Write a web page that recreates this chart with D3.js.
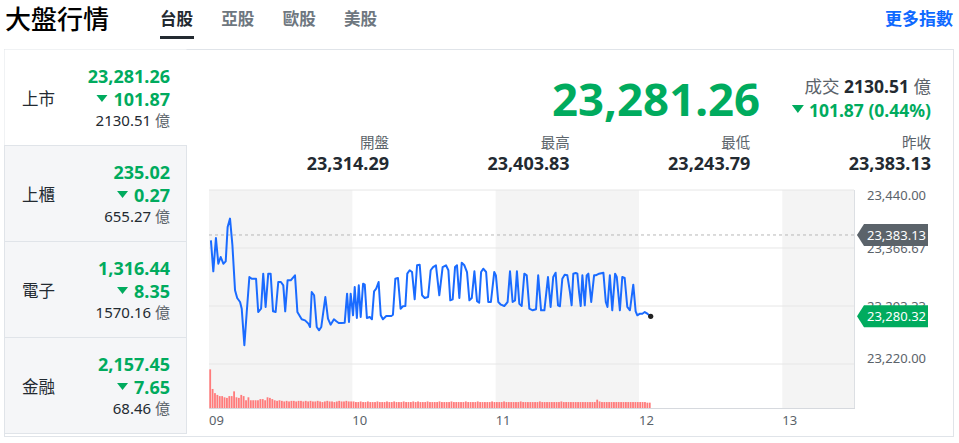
<!DOCTYPE html>
<html><head><meta charset="utf-8">
<script src="https://cdn.jsdelivr.net/npm/d3@7"></script>
<style>
html,body{margin:0;padding:0;background:#fff;}
svg{display:block;font-family:"Noto Sans","Noto Sans CJK TC",sans-serif;}
</style></head>
<body><svg id="c" width="959" height="443"></svg>
<script>
// ---------- data ----------
const pageTitle = "大盤行情";
const tabs = ["台股","亞股","歐股","美股"];
const moreLink = "更多指數";
const indexNames = ["上市","上櫃","電子","金融"];
const indexValues = ["23,281.26","235.02","1,316.44","2,157.45"];
const indexChanges = ["101.87","0.27","8.35","7.65"];
const indexTurnover = ["2130.51","655.27","1570.16","68.46"];
const lastIndex = "23,281.26";
const turnoverText = "2130.51";
const changeText = "101.87 (0.44%)";
const statLabels = ["開盤","最高","最低","昨收"];
const statValues = ["23,314.29","23,403.83","23,243.79","23,383.13"];
const prevClose = 23383.13;
const lastTrade = 23280.32;
const yTicks = [23440, 23366.67, 23293.33, 23220];
const hourLabels = ["09","10","11","12","13"];
// minutes after 09:00 for each traced point of the intraday line
const minutes = [0.8,1.8,2.9,3.9,4.9,6.0,7.0,7.8,8.8,9.8,
10.9,11.8,13.0,13.7,14.8,15.8,16.9,17.9,19.7,20.6,
21.8,22.7,23.7,24.8,25.8,26.8,27.9,29.0,30.1,31.1,
31.9,32.9,34.2,36.0,37.0,38.8,40.2,41.6,42.3,43.0,
44.0,45.1,46.1,47.0,48.7,49.8,50.9,52.3,53.3,54.3,
55.4,56.8,57.8,58.6,59.3,60.3,61.0,61.9,62.7,63.5,
64.5,65.2,66.1,67.3,68.2,69.1,70.0,71.0,71.9,72.8,
74.2,76.3,77.0,78.0,79.1,80.2,81.2,82.2,83.0,84.0,
85.0,86.1,87.1,88.2,89.2,90.3,91.7,92.8,93.8,95.0,
96.4,97.8,99.2,100.2,101.0,102.0,103.0,103.8,104.8,105.8,
106.9,108.0,109.0,110.0,111.1,112.2,113.1,113.9,114.8,116.0,
116.9,118.0,119.4,120.1,121.1,122.2,123.6,125.0,126.0,127.1,
128.1,128.9,129.9,130.9,132.0,133.0,134.1,135.5,136.9,137.8,
139.0,140.4,141.9,143.0,144.1,145.1,146.1,146.9,147.9,148.9,
150.0,151.1,151.8,152.5,153.5,154.2,154.9,155.6,156.3,157.3,
158.1,158.8,160.0,161.2,161.9,163.3,165.1,166.1,166.8,167.8,
168.8,170.0,170.7,172.0,173.0,174.0,175.1,176.2,177.6,178.6,
179.3,180.4,181.4,182.4,183.5,184.9];
const prices = [23376.4,23337.2,23379.3,23346.8,23355.3,23346.8,23349.8,23393.2,23403.83,23370.1,
23313.2,23303.4,23298.4,23289.9,23243.79,23285.7,23330.0,23327.8,23327.8,23285.7,
23289.9,23334.2,23292.1,23334.2,23334.2,23286.6,23285.7,23323.7,23323.7,23319.5,
23286.6,23325.8,23325.8,23332.1,23285.7,23276.5,23275.2,23271.0,23266.8,23311.0,
23306.9,23266.8,23262.6,23266.8,23304.7,23277.3,23269.7,23276.5,23274.0,23271.8,
23271.8,23272.2,23308.9,23273.1,23308.9,23281.6,23317.4,23278.2,23319.5,23279.4,
23321.5,23320.3,23278.2,23279.4,23276.5,23311.9,23315.2,23323.7,23281.6,23276.5,
23280.7,23280.7,23282.3,23327.8,23328.7,23289.9,23293.0,23293.3,23334.2,23338.5,
23336.3,23301.8,23344.8,23345.5,23306.9,23303.4,23304.7,23338.5,23342.6,23344.8,
23306.9,23342.6,23344.8,23338.5,23300.5,23301.8,23342.6,23344.8,23303.4,23348.1,
23344.8,23336.3,23300.5,23303.4,23337.2,23299.3,23297.5,23336.3,23340.5,23336.3,
23298.4,23298.4,23336.3,23332.1,23298.4,23295.0,23293.3,23298.4,23337.2,23298.4,
23300.5,23337.2,23296.2,23293.3,23334.2,23332.1,23289.9,23287.9,23289.2,23332.1,
23287.9,23287.9,23330.0,23292.1,23330.0,23335.4,23294.2,23293.0,23327.8,23332.9,
23332.1,23311.0,23294.2,23334.2,23335.1,23334.2,23311.0,23293.3,23332.1,23294.2,
23332.1,23334.2,23298.4,23332.1,23332.1,23334.2,23335.4,23298.4,23292.1,23332.1,
23287.9,23334.2,23330.0,23287.9,23330.0,23328.7,23292.1,23287.9,23320.3,23286.6,
23281.6,23283.6,23283.6,23285.7,23283.6,23280.32];
// per-minute turnover (億), from 09:00
const volumes = [65,32,25,22,20,20,18,17,20,20,28,18,17,22,20,13,18,13,13,13,13,15,15,13,18,17,15,13,12,13,
12,11,12,11,12,12,11,12,12,11,12,11,12,11,11,12,11,10,11,12,11,11,10,11,12,11,11,12,11,11,
11,10,10,11,10,10,11,10,10,10,11,10,10,10,11,10,10,11,10,10,10,11,10,10,10,11,10,11,10,10,
10,11,10,10,10,10,11,10,10,10,10,11,10,10,10,10,10,11,10,10,10,10,11,10,10,10,10,10,11,10,
10,10,10,11,10,10,10,10,10,10,11,10,10,10,10,10,10,10,11,10,10,10,10,10,10,10,10,11,10,10,
10,10,10,10,10,10,10,10,10,10,10,10,14,11,10,10,10,10,10,10,10,10,10,10,10,10,10,10,10,10,10,10,10,9,9];

// ---------- styles ----------
const GREEN = "#00ab5e", DARK = "#232a31", GRAY = "#5b636a", LINE = "#e0e4e9";
const svg = d3.select("#c");

// header
svg.append("text").attr("x",5).attr("y",19).attr("dominant-baseline","central")
  .attr("font-size",26).attr("font-weight",500).attr("fill","#000").text(pageTitle);
const tabX = d3.scalePoint().domain(tabs).range([160,344]);
svg.selectAll("text.tab").data(tabs).enter().append("text").attr("class","tab")
  .attr("x",d=>tabX(d)).attr("y",18).attr("dominant-baseline","central")
  .attr("font-size",16.5).attr("font-weight",700)
  .attr("fill",(d,i)=>i===0?DARK:"#6e7780").text(d=>d);
svg.append("rect").attr("x",160).attr("y",36).attr("width",34).attr("height",3).attr("fill",DARK);
svg.append("text").attr("x",953).attr("y",18).attr("text-anchor","end").attr("dominant-baseline","central")
  .attr("font-size",17).attr("font-weight",700).attr("fill","#0f69ff").text(moreLink);

// outer box
svg.append("rect").attr("x",4.5).attr("y",49.5).attr("width",949).attr("height",387)
  .attr("fill","#fff").attr("stroke",LINE);

// left panel rows
const rowTop = i => 49 + i*96;
const rows = svg.selectAll("g.row").data(indexNames).enter().append("g").attr("class","row")
  .attr("transform",(d,i)=>`translate(0,${rowTop(i)})`);
rows.append("rect").attr("x",4.5).attr("y",0.5).attr("width",182).attr("height",96)
  .attr("fill",(d,i)=>i===0?"#fff":"#f5f6f8").attr("stroke",(d,i)=>i===0?"none":LINE);
rows.append("text").attr("x",22).attr("y",49).attr("dominant-baseline","central")
  .attr("font-size",16.5).attr("fill",DARK).text(d=>d);
rows.append("text").attr("x",170).attr("y",27).attr("text-anchor","end").attr("dominant-baseline","central")
  .attr("font-size",18).attr("font-weight",700).attr("fill",GREEN).text((d,i)=>indexValues[i]);
rows.each(function(d,i){
  const g = d3.select(this);
  const t = g.append("text").attr("x",170).attr("y",50).attr("text-anchor","end").attr("dominant-baseline","central")
    .attr("font-size",18).attr("font-weight",700).attr("fill",GREEN).text(indexChanges[i]);
  const w = t.node().getComputedTextLength();
  const tx = 170 - w - 6;
  g.append("path").attr("d",`M${tx-11},${46}L${tx},${46}L${tx-5.5},${53}Z`).attr("fill",GREEN);
  const v = g.append("text").attr("x",170).attr("y",71).attr("text-anchor","end").attr("dominant-baseline","central")
    .attr("font-size",15).attr("fill",DARK);
  v.append("tspan").text(indexTurnover[i]+" ");
  v.append("tspan").attr("fill",GRAY).text("億");
});

// big quote
svg.append("text").attr("x",760).attr("y",98).attr("text-anchor","end").attr("dominant-baseline","central")
  .attr("font-size",45.5).attr("font-weight",700).attr("fill",GREEN).text(lastIndex);
const tt = svg.append("text").attr("x",931).attr("y",86).attr("text-anchor","end").attr("dominant-baseline","central")
  .attr("font-size",17.5);
tt.append("tspan").attr("fill",GRAY).text("成交 ");
tt.append("tspan").attr("fill",DARK).attr("font-weight",700).text(turnoverText);
tt.append("tspan").attr("fill",GRAY).text(" 億");
const ct = svg.append("text").attr("x",931).attr("y",110).attr("text-anchor","end").attr("dominant-baseline","central")
  .attr("font-size",17.5).attr("font-weight",700).attr("fill",GREEN).text(changeText);
{
  const w = ct.node().getComputedTextLength();
  const tx = 931 - w - 5;
  svg.append("path").attr("d",`M${tx-12},${105}L${tx},${105}L${tx-6},${113}Z`).attr("fill",GREEN);
}
const statX = d3.scaleLinear().domain([0,3]).range([389,931]);
svg.selectAll("text.sl").data(statLabels).enter().append("text").attr("class","sl")
  .attr("x",(d,i)=>statX(i)).attr("y",142).attr("text-anchor","end").attr("dominant-baseline","central")
  .attr("font-size",14.5).attr("fill",GRAY).text(d=>d);
svg.selectAll("text.sv").data(statValues).enter().append("text").attr("class","sv")
  .attr("x",(d,i)=>statX(i)).attr("y",163).attr("text-anchor","end").attr("dominant-baseline","central")
  .attr("font-size",18).attr("font-weight",700).attr("fill",DARK).text(d=>d);

// ---------- chart ----------
const x = d3.scaleLinear().domain([0,270]).range([209,854]);
const y = d3.scaleLinear().domain([23220,23440]).range([364,190]);
const yv = d3.scaleLinear().domain([0,74]).range([408,364]);

// shaded hour bands
const bands = hourLabels.map((h,i)=>({s:i*60,e:Math.min((i+1)*60,270)})).filter((d,i)=>i%2===0);
svg.selectAll("rect.band").data(bands).enter().append("rect").attr("class","band")
  .attr("x",d=>x(d.s)).attr("y",190).attr("width",d=>x(d.e)-x(d.s)).attr("height",218)
  .attr("fill","#f4f4f4");

// grid
svg.selectAll("line.grid").data(yTicks).enter().append("line").attr("class","grid")
  .attr("x1",209).attr("x2",854).attr("y1",d=>y(d)).attr("y2",d=>y(d))
  .attr("stroke","#e6e6e6").attr("stroke-width",1);
svg.append("line").attr("x1",854.5).attr("x2",854.5).attr("y1",190).attr("y2",408).attr("stroke","#dcdfe3");
svg.append("line").attr("x1",209).attr("x2",855).attr("y1",408.5).attr("y2",408.5).attr("stroke","#d6d9de");

// y labels
const labelShift = [5,0,0,-6];
svg.selectAll("text.yl").data(yTicks).enter().append("text").attr("class","yl")
  .attr("x",867).attr("y",(d,i)=>y(d)+labelShift[i]).attr("dominant-baseline","central")
  .attr("font-size",13).attr("fill",GRAY).text(d=>d3.format(",.2f")(d));

// x labels
svg.selectAll("text.xl").data(hourLabels).enter().append("text").attr("class","xl")
  .attr("x",(d,i)=>x(i*60)).attr("y",420).attr("dominant-baseline","central")
  .attr("font-size",13).attr("fill",GRAY).text(d=>d);

// volume bars
svg.selectAll("rect.vol").data(volumes).enter().append("rect").attr("class","vol")
  .attr("x",(d,i)=>x(i+0.5)-0.9).attr("width",1.8)
  .attr("y",d=>yv(d)).attr("height",d=>yv(0)-yv(d)).attr("fill","#ff7b7b");

// prev close dashed line
svg.append("line").attr("x1",209).attr("x2",858).attr("y1",y(prevClose)).attr("y2",y(prevClose))
  .attr("stroke","#b8b8b8").attr("stroke-dasharray","3,3");

// price line
const pts = minutes.map((m,i)=>[m,prices[i]]);
svg.append("path").datum(pts).attr("fill","none").attr("stroke","#1a6bff").attr("stroke-width",2)
  .attr("stroke-linejoin","round")
  .attr("d",d3.line().x(d=>x(d[0])).y(d=>y(d[1])));
const lastPt = pts[pts.length-1];
svg.append("circle").attr("cx",x(lastPt[0])).attr("cy",y(lastPt[1])).attr("r",2.6).attr("fill","#222");

// tags
function tag(v,color){
  const cy = y(v);
  svg.append("path").attr("d",`M857,${cy}L864,${cy-11}L928,${cy-11}L928,${cy+11}L864,${cy+11}Z`)
    .attr("fill",color);
  svg.append("text").attr("x",867).attr("y",cy).attr("dominant-baseline","central")
    .attr("font-size",13).attr("fill","#fff").text(d3.format(",.2f")(v));
}
tag(prevClose,"#5b636a");
tag(lastTrade,GREEN);
</script></body></html>
